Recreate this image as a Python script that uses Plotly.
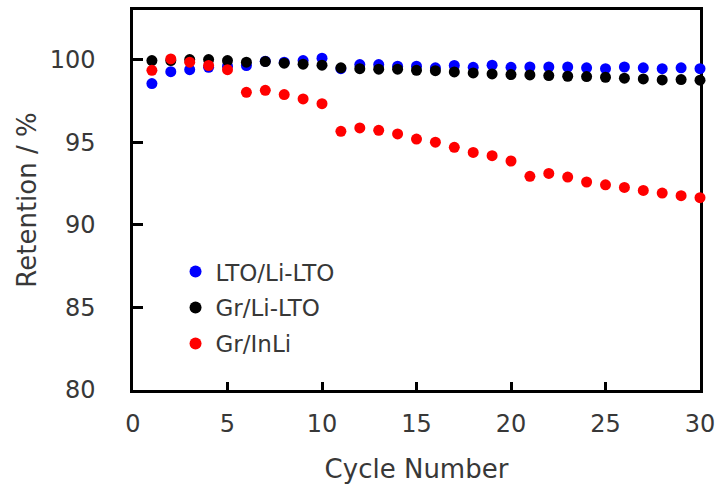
import plotly.graph_objects as go

cycles = list(range(1, 31))

lto_li_lto = [98.55, 99.27, 99.39, 99.53, 99.60, 99.64, 99.90, 99.84, 99.94, 100.08,
              99.45, 99.70, 99.70, 99.60, 99.60, 99.50, 99.64, 99.53, 99.66, 99.53,
              99.55, 99.55, 99.55, 99.50, 99.45, 99.55, 99.50, 99.45, 99.50, 99.45]

gr_li_lto = [99.94, 99.94, 100.00, 100.00, 99.94, 99.84, 99.88, 99.78, 99.72, 99.66,
             99.50, 99.45, 99.42, 99.42, 99.35, 99.33, 99.25, 99.19, 99.13, 99.09,
             99.07, 99.03, 98.99, 98.97, 98.93, 98.87, 98.83, 98.77, 98.79, 98.75]

gr_inli = [99.35, 100.04, 99.84, 99.64, 99.39, 98.02, 98.14, 97.88, 97.62, 97.33,
           95.66, 95.86, 95.72, 95.50, 95.19, 95.00, 94.69, 94.38, 94.18, 93.86,
           92.93, 93.11, 92.89, 92.59, 92.42, 92.26, 92.08, 91.92, 91.76, 91.64]

series = [
    ("LTO/Li-LTO", lto_li_lto, "#0000ff"),
    ("Gr/Li-LTO", gr_li_lto, "#000000"),
    ("Gr/InLi", gr_inli, "#ff0000"),
]

FONT = "DejaVu Sans"
TEXT = "#383838"

fig = go.Figure()
for name, vals, color in series:
    fig.add_trace(go.Scatter(
        x=cycles, y=vals, name=name, legendgroup=name, mode="markers",
        marker=dict(color=color, size=11, line=dict(width=0)),
        cliponaxis=False,
    ))

axis_common = dict(
    showgrid=False, zeroline=False,
    showline=True, linecolor="black", linewidth=2.5, mirror=True,
    ticks="inside", tickcolor="black", tickwidth=2.5,
    tickfont=dict(family=FONT, size=24, color=TEXT),
    layer="below traces",
)

fig.update_xaxes(
    range=[0, 30], tickvals=[0, 5, 10, 15, 20, 25, 30], ticklen=8,
    ticklabelstandoff=10,
    title=dict(text="Cycle Number", font=dict(family=FONT, size=26, color=TEXT), standoff=28),
    **axis_common,
)
fig.update_yaxes(
    range=[80, 103], tickvals=[80, 85, 90, 95, 100], ticklen=10,
    ticklabelstandoff=30,
    title=dict(text="Retention / %", font=dict(family=FONT, size=26, color=TEXT), standoff=6),
    **axis_common,
)

fig.update_layout(
    width=718, height=484,
    margin=dict(l=133, r=18, t=10, b=94, autoexpand=False),
    paper_bgcolor="white", plot_bgcolor="white",
    legend=dict(
        x=0.075, y=0.368, xanchor="left", yanchor="top",
        bgcolor="rgba(0,0,0,0)", borderwidth=0,
        font=dict(family=FONT, size=23, color=TEXT),
        itemsizing="constant", tracegroupgap=3,
    ),
)

fig.write_html("out.html")
